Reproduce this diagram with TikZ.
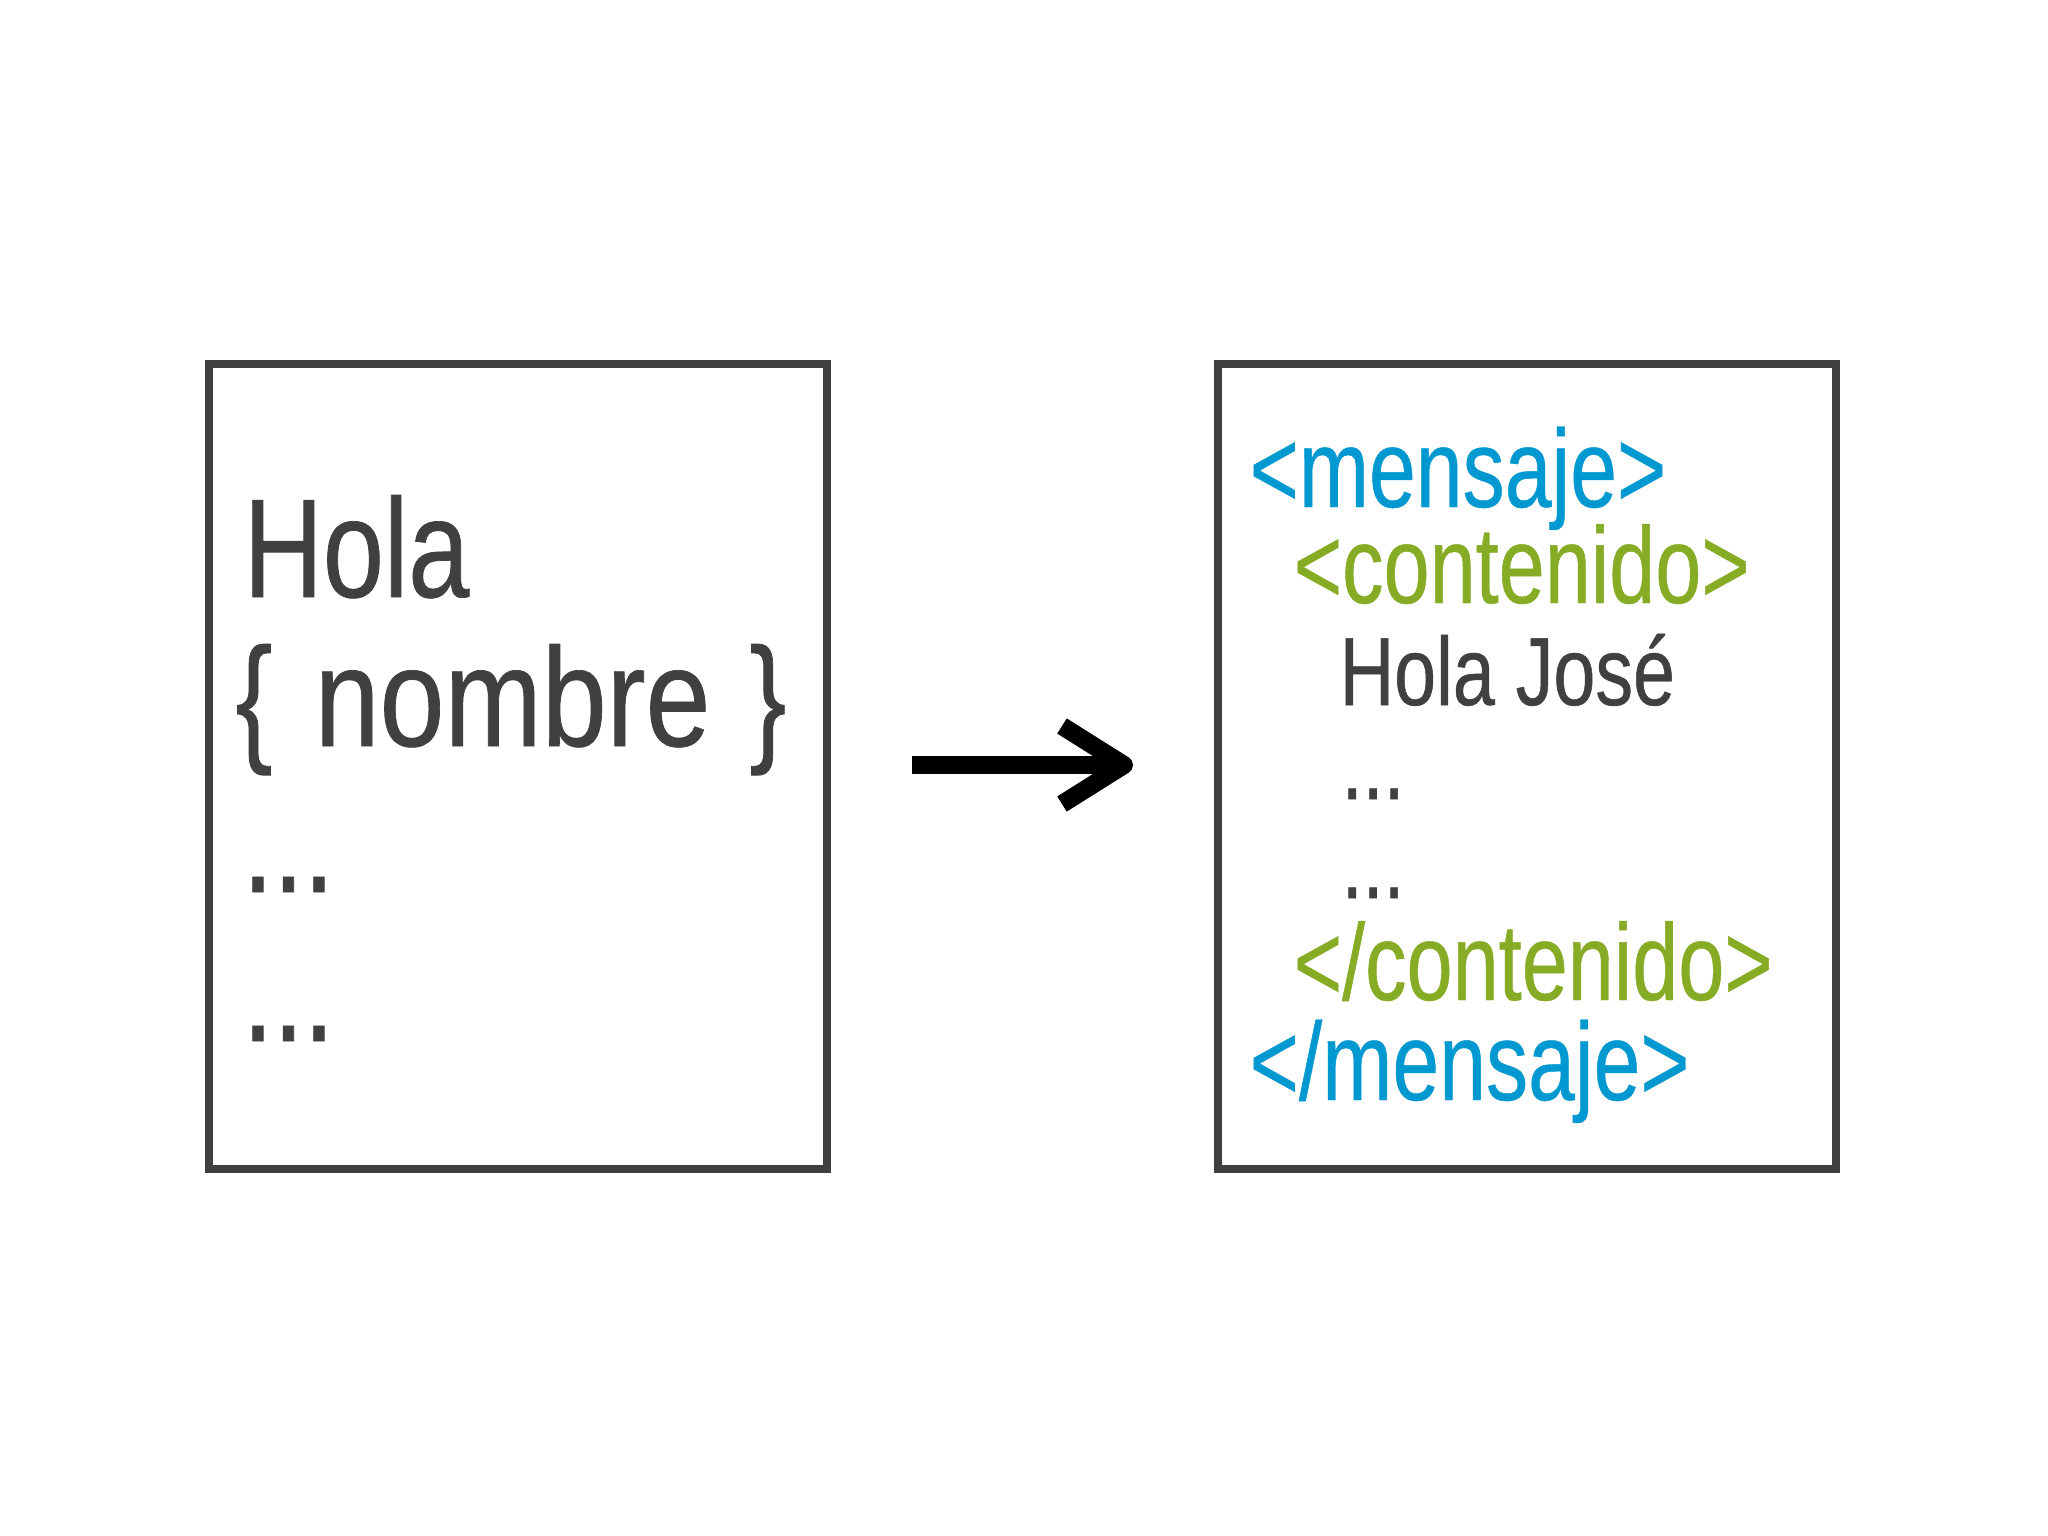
\documentclass[tikz,border=0pt]{standalone}
\usepackage{fontspec}
\setmainfont{Liberation Sans}[FakeStretch=0.78,FakeBold=0.5]
\newfontfamily\widefont{Liberation Sans}[FakeStretch=0.83,FakeBold=0.5]
\newfontfamily\tagfont{Liberation Sans}[FakeStretch=0.76,FakeBold=0.4]
\definecolor{ink}{HTML}{404040}
\definecolor{tagblue}{HTML}{0098D0}
\definecolor{taggreen}{HTML}{86AB25}
\begin{document}
\begin{tikzpicture}[x=0.01cm,y=-0.01cm,
  boxstyle/.style={draw=ink,line width=2.3pt,rectangle,minimum width=6.17cm,minimum height=8.05cm,inner sep=0pt},
  txt/.style={anchor=base west,inner sep=0pt,text=ink},
  big/.style={txt,font=\fontsize{40}{40}\selectfont},
  tagm/.style={txt,text=tagblue,font=\fontsize{31.5}{31.5}\tagfont},
  tagc/.style={txt,text=taggreen,font=\fontsize{31}{31}\tagfont},
  body/.style={txt,font=\fontsize{27.5}{27.5}\selectfont},
  arrowline/.style={draw=black,line width=5.1pt}]
\useasboundingbox (0,0) rectangle (2048,1536);
\fill[white] (0,0) rectangle (2048,1536);
\node[boxstyle] (leftbox) at (518,766.5) {};
\node[boxstyle] (rightbox) at (1527,766.5) {};
% left text
\node[big] (hola) at (243,597) {Hola};
\node[big] (lbrace) at (235,746) {\{};
\node[big,font=\fontsize{40}{40}\widefont] (nombre) at (314,746) {nombre};
\node[big] (rbrace) at (749,746) {\}};
\node[big] (ldots1) at (242,892) {...};
\node[big] (ldots2) at (242,1041) {...};
% right text
\node[tagm] (mopen) at (1249,507) {<mensaje>};
\node[tagc] (copen) at (1293,603) {<contenido>};
\node[body] (holajose) at (1339,705) {Hola José};
\node[body] (rdots1) at (1341,799) {...};
\node[body] (rdots2) at (1341,898) {...};
\node[tagc] (cclose) at (1293,1000) {</contenido>};
\node[tagm] (mclose) at (1249,1100) {</mensaje>};
% arrow
\coordinate (a1) at (912,765);
\coordinate (a2) at (1120,765);
\coordinate (w1) at (1062,726);
\coordinate (tip) at (1124,765);
\coordinate (w2) at (1062,804);
\draw[arrowline] (a1) -- (a2);
\draw[arrowline,line join=round] (w1) -- (tip) -- (w2);
\end{tikzpicture}
\end{document}
